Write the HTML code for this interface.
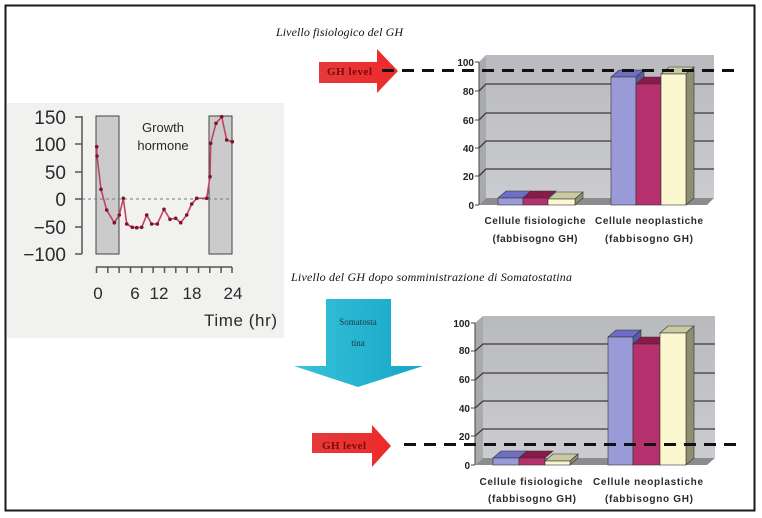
<!DOCTYPE html>
<html><head><meta charset="utf-8"><style>
html,body{margin:0;padding:0;background:#fff;}
svg{display:block;}
</style></head><body>
<svg width="762" height="518" viewBox="0 0 762 518" xmlns="http://www.w3.org/2000/svg">
<defs>
<linearGradient id="wall" x1="0" y1="0" x2="0" y2="1">
<stop offset="0" stop-color="#b9babe"/><stop offset="1" stop-color="#cbcccf"/>
</linearGradient>
<linearGradient id="red" x1="0" y1="0" x2="1" y2="0">
<stop offset="0" stop-color="#e43a3a"/><stop offset="1" stop-color="#ee2a2a"/>
</linearGradient>
<linearGradient id="cyan" x1="0" y1="0" x2="1" y2="0">
<stop offset="0" stop-color="#38c2da"/><stop offset="1" stop-color="#15a6c6"/>
</linearGradient>
</defs>
<rect width="762" height="518" fill="#fff"/>
<!-- outer frame -->
<rect x="5.5" y="5.5" width="749" height="505" fill="none" stroke="#1a1a1a" stroke-width="2"/>

<!-- LEFT PHOTO -->
<rect x="7" y="103" width="277" height="235" fill="#f1f1ef"/>
<g font-family="Liberation Sans, sans-serif" fill="#2a2a2a">
<rect x="96" y="116" width="23" height="138" fill="#cbcbcb" stroke="#444" stroke-width="1"/>
<rect x="209" y="116" width="23" height="138" fill="#cbcbcb" stroke="#444" stroke-width="1"/>
<line x1="82" y1="116" x2="82" y2="254" stroke="#555" stroke-width="1.5"/>
<g stroke="#555" stroke-width="1.5">
<line x1="75" y1="117" x2="82" y2="117"/><line x1="75" y1="144" x2="82" y2="144"/>
<line x1="75" y1="172" x2="82" y2="172"/><line x1="75" y1="199" x2="82" y2="199"/>
<line x1="75" y1="227" x2="82" y2="227"/><line x1="75" y1="254" x2="82" y2="254"/>
</g>
<line x1="82" y1="199" x2="232" y2="199" stroke="#777" stroke-width="1" stroke-dasharray="3,3"/>
<g font-size="19" text-anchor="end">
<text x="66" y="124">150</text><text x="66" y="151">100</text>
<text x="66" y="179">50</text><text x="66" y="206">0</text>
<text x="66" y="234">−50</text><text x="66" y="261">−100</text>
</g>
<text x="163" y="132" font-size="13" text-anchor="middle">Growth</text>
<text x="163" y="150" font-size="13" text-anchor="middle">hormone</text>
<line x1="96" y1="267" x2="232" y2="267" stroke="#555" stroke-width="1.5"/>
<g stroke="#555" stroke-width="1.5">
<line x1="96.5" y1="267" x2="96.5" y2="273"/><line x1="107.8" y1="267" x2="107.8" y2="273"/>
<line x1="119.1" y1="267" x2="119.1" y2="273"/><line x1="130.5" y1="267" x2="130.5" y2="273"/>
<line x1="141.8" y1="267" x2="141.8" y2="273"/><line x1="153.1" y1="267" x2="153.1" y2="273"/>
<line x1="164.5" y1="267" x2="164.5" y2="273"/><line x1="175.8" y1="267" x2="175.8" y2="273"/>
<line x1="187.1" y1="267" x2="187.1" y2="273"/><line x1="198.5" y1="267" x2="198.5" y2="273"/>
<line x1="209.8" y1="267" x2="209.8" y2="273"/><line x1="221.1" y1="267" x2="221.1" y2="273"/>
<line x1="232" y1="267" x2="232" y2="273"/>
</g>
<g font-size="17" text-anchor="middle">
<text x="98" y="299">0</text><text x="135" y="299">6</text><text x="159" y="299">12</text>
<text x="192" y="299">18</text><text x="233" y="299">24</text>
</g>
<text x="204" y="326" font-size="17" textLength="73">Time (hr)</text>
<polyline fill="none" stroke="#c0445e" stroke-width="1.6" points="96.7,146.7 97,156 101,189.3 106.7,210 114.3,222.7 119.3,215 123.3,198.3 126.7,224 132.3,227.3 136.7,227.7 141.7,227.3 146.7,215 151.7,224 157.3,224 164,209.3 170,219.3 175.7,218.3 180.7,222.7 186.7,215 191.7,204 196.7,198.3 206.7,198.3 210,176.7 210.7,143.3 216,123.3 221.7,116.7 226.7,140 232.3,141.7"/>
<g fill="#7a1432">
<circle cx="96.7" cy="146.7" r="1.8"/><circle cx="97" cy="156" r="1.8"/><circle cx="101" cy="189.3" r="1.8"/>
<circle cx="106.7" cy="210" r="1.8"/><circle cx="114.3" cy="222.7" r="1.8"/><circle cx="119.3" cy="215" r="1.8"/>
<circle cx="123.3" cy="198.3" r="1.8"/><circle cx="126.7" cy="224" r="1.8"/><circle cx="132.3" cy="227.3" r="1.8"/>
<circle cx="136.7" cy="227.7" r="1.8"/><circle cx="141.7" cy="227.3" r="1.8"/><circle cx="146.7" cy="215" r="1.8"/>
<circle cx="151.7" cy="224" r="1.8"/><circle cx="157.3" cy="224" r="1.8"/><circle cx="164" cy="209.3" r="1.8"/>
<circle cx="170" cy="219.3" r="1.8"/><circle cx="175.7" cy="218.3" r="1.8"/><circle cx="180.7" cy="222.7" r="1.8"/>
<circle cx="186.7" cy="215" r="1.8"/><circle cx="191.7" cy="204" r="1.8"/><circle cx="196.7" cy="198.3" r="1.8"/>
<circle cx="206.7" cy="198.3" r="1.8"/><circle cx="210" cy="176.7" r="1.8"/><circle cx="210.7" cy="143.3" r="1.8"/>
<circle cx="216" cy="123.3" r="1.8"/><circle cx="221.7" cy="116.7" r="1.8"/><circle cx="226.7" cy="140" r="1.8"/>
<circle cx="232.3" cy="141.7" r="1.8"/>
</g>
</g>

<!-- TOP TITLE -->
<text x="276" y="36" font-family="Liberation Serif, serif" font-style="italic" font-size="12" fill="#111" textLength="127">Livello fisiologico del GH</text>

<!-- TOP RED ARROW -->
<polygon points="319,62 377,62 377,49 398,71 377,93 377,83 319,83" fill="url(#red)"/>
<text x="327" y="75" font-family="Liberation Serif, serif" font-weight="bold" font-size="11" fill="#7a0a0a" textLength="45">GH level</text>

<!-- TOP CHART -->
<g>
<polygon points="479,62 486,55 486,198 479,205" fill="#a9aaae"/>
<rect x="486" y="55" width="228" height="143" fill="url(#wall)"/>
<polygon points="479,205 486,198 714,198 707,205" fill="#8c8c8e"/>
<g stroke="#3c3c3c" stroke-width="1.3" fill="none">
<polyline points="479,91 486,84 714,84"/>
<polyline points="479,120 486,113 714,113"/>
<polyline points="479,148 486,141 714,141"/>
<polyline points="479,176 486,169 714,169"/>
</g>
<line x1="479" y1="62" x2="479" y2="205" stroke="#444" stroke-width="1"/>
<g stroke="#444" stroke-width="1">
<line x1="475" y1="62" x2="479" y2="62"/><line x1="475" y1="91" x2="479" y2="91"/>
<line x1="475" y1="120" x2="479" y2="120"/><line x1="475" y1="148" x2="479" y2="148"/>
<line x1="475" y1="176" x2="479" y2="176"/><line x1="475" y1="205" x2="479" y2="205"/>
</g>
<g font-family="Liberation Sans, sans-serif" font-weight="bold" font-size="10" fill="#222" text-anchor="end">
<text x="474" y="66">100</text><text x="474" y="95">80</text><text x="474" y="124">60</text>
<text x="474" y="152">40</text><text x="474" y="180">20</text><text x="474" y="209">0</text>
</g>
<!-- group 1 -->
<g stroke="#333" stroke-width="0.6">
<polygon points="498,198 506,191 531,191 523,198" fill="#6e6ec4"/>
<rect x="498" y="198" width="25" height="7" fill="#9a9ad8"/>
<polygon points="523,198 531,191 556,191 548,198" fill="#8a1a48"/>
<rect x="523" y="198" width="25" height="7" fill="#b5306c"/>
<polygon points="548,199 556,192 583,192 575,199" fill="#c9c9a2"/>
<polygon points="575,199 583,192 583,198 575,205" fill="#8e8e70"/>
<rect x="548" y="199" width="27" height="6" fill="#fbf8cf"/>
</g>
<!-- group 2 -->
<g stroke="#333" stroke-width="0.6">
<polygon points="611,77 619,70 644,70 636,77" fill="#6e6ec4"/>
<polygon points="636,77 644,70 644,198 636,205" fill="#5a5aa0"/>
<rect x="611" y="77" width="25" height="128" fill="#9a9ad8"/>
<polygon points="636,84 644,77 669,77 661,84" fill="#8a1a48"/>
<polygon points="661,84 669,77 669,198 661,205" fill="#6a1236"/>
<rect x="636" y="84" width="25" height="121" fill="#b5306c"/>
<polygon points="661,74 669,67 694,67 686,74" fill="#c9c9a2"/>
<polygon points="686,74 694,67 694,198 686,205" fill="#8e8e70"/>
<rect x="661" y="74" width="25" height="131" fill="#fbf8cf"/>
</g>
<line x1="382" y1="70.5" x2="740" y2="70.5" stroke="#111" stroke-width="3" stroke-dasharray="12,8"/>
<g font-family="Liberation Sans, sans-serif" font-weight="bold" font-size="10" fill="#2a2a2a" text-anchor="middle">
<text x="535" y="224" textLength="101">Cellule fisiologiche</text>
<text x="535" y="242" textLength="85">(fabbisogno GH)</text>
<text x="649" y="224" textLength="108">Cellule neoplastiche</text>
<text x="649" y="242" textLength="88">(fabbisogno GH)</text>
</g>
</g>

<!-- BOTTOM TITLE -->
<text x="291" y="281" font-family="Liberation Serif, serif" font-style="italic" font-size="12" fill="#111" textLength="281">Livello del GH  dopo somministrazione di Somatostatina</text>

<!-- CYAN ARROW -->
<polygon points="326,299 391,299 391,366 423,366 358,387 294,366 326,366" fill="url(#cyan)"/>
<text x="358" y="325" font-family="Liberation Serif, serif" font-size="9" fill="#1c3440" text-anchor="middle">Somatosta</text>
<text x="358" y="346" font-family="Liberation Serif, serif" font-size="9" fill="#1c3440" text-anchor="middle">tina</text>

<!-- BOTTOM RED ARROW -->
<polygon points="312,433 372,433 372,425 391,446 372,467 372,453 312,453" fill="url(#red)"/>
<text x="322" y="449" font-family="Liberation Serif, serif" font-weight="bold" font-size="11" fill="#7a0a0a" textLength="44">GH level</text>

<!-- BOTTOM CHART -->
<g>
<polygon points="475,323 483,316 483,458 475,465" fill="#a9aaae"/>
<rect x="483" y="316" width="232" height="142" fill="url(#wall)"/>
<polygon points="475,465 483,458 715,458 707,465" fill="#8c8c8e"/>
<g stroke="#3c3c3c" stroke-width="1.3" fill="none">
<polyline points="475,351 483,344 715,344"/>
<polyline points="475,380 483,373 715,373"/>
<polyline points="475,408 483,401 715,401"/>
<polyline points="475,436 483,429 715,429"/>
</g>
<line x1="475" y1="323" x2="475" y2="465" stroke="#444" stroke-width="1"/>
<g stroke="#444" stroke-width="1">
<line x1="471" y1="323" x2="475" y2="323"/><line x1="471" y1="351" x2="475" y2="351"/>
<line x1="471" y1="380" x2="475" y2="380"/><line x1="471" y1="408" x2="475" y2="408"/>
<line x1="471" y1="436" x2="475" y2="436"/><line x1="471" y1="465" x2="475" y2="465"/>
</g>
<g font-family="Liberation Sans, sans-serif" font-weight="bold" font-size="10" fill="#222" text-anchor="end">
<text x="470" y="327">100</text><text x="470" y="354">80</text><text x="470" y="383">60</text>
<text x="470" y="412">40</text><text x="470" y="440">20</text><text x="470" y="469">0</text>
</g>
<g stroke="#333" stroke-width="0.6">
<polygon points="493,458 501,451 527,451 519,458" fill="#6e6ec4"/>
<rect x="493" y="458" width="26" height="7" fill="#9a9ad8"/>
<polygon points="519,458 527,451 553,451 545,458" fill="#8a1a48"/>
<rect x="519" y="458" width="26" height="7" fill="#b5306c"/>
<polygon points="545,461 553,454 578,454 570,461" fill="#c9c9a2"/>
<polygon points="570,461 578,454 578,458 570,465" fill="#8e8e70"/>
<rect x="545" y="461" width="25" height="4" fill="#fbf8cf"/>
</g>
<g stroke="#333" stroke-width="0.6">
<polygon points="608,337 616,330 641,330 633,337" fill="#6e6ec4"/>
<polygon points="633,337 641,330 641,458 633,465" fill="#5a5aa0"/>
<rect x="608" y="337" width="25" height="128" fill="#9a9ad8"/>
<polygon points="633,344 641,337 668,337 660,344" fill="#8a1a48"/>
<polygon points="660,344 668,337 668,458 660,465" fill="#6a1236"/>
<rect x="633" y="344" width="27" height="121" fill="#b5306c"/>
<polygon points="660,333 668,326 694,326 686,333" fill="#c9c9a2"/>
<polygon points="686,333 694,326 694,458 686,465" fill="#8e8e70"/>
<rect x="660" y="333" width="26" height="132" fill="#fbf8cf"/>
</g>
<line x1="404" y1="444.5" x2="740" y2="444.5" stroke="#111" stroke-width="3" stroke-dasharray="12,8"/>
<g font-family="Liberation Sans, sans-serif" font-weight="bold" font-size="10" fill="#2a2a2a" text-anchor="middle">
<text x="531" y="485" textLength="103">Cellule fisiologiche</text>
<text x="532" y="502" textLength="88">(fabbisogno GH)</text>
<text x="648" y="485" textLength="110">Cellule neoplastiche</text>
<text x="649" y="502" textLength="88">(fabbisogno GH)</text>
</g>
</g>
</svg>
</body></html>
